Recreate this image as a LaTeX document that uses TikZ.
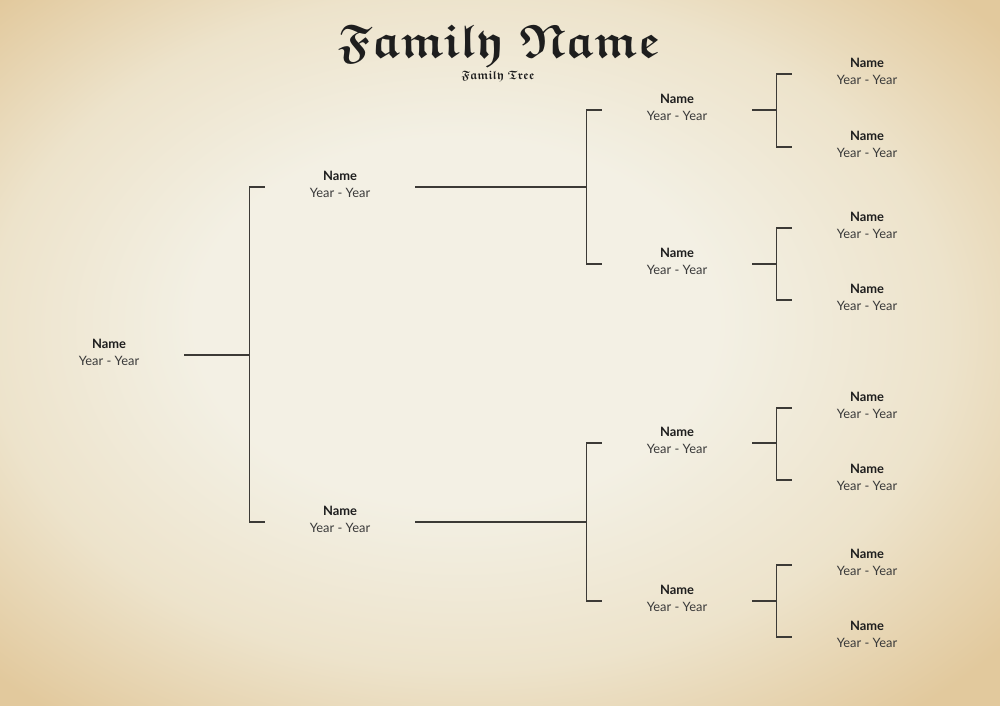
\documentclass[tikz,border=0pt]{standalone}
\usepackage{amssymb}
\usepackage{fontspec}
\setmainfont{Lato}
\usetikzlibrary{calc}
\definecolor{paperlight}{HTML}{F3F0E4}
\definecolor{papermid}{HTML}{EDE3CB}
\definecolor{paperedge}{HTML}{E2C99D}
\definecolor{ink}{HTML}{1E1E1E}
\definecolor{inkgray}{HTML}{3A3A3A}
\definecolor{linegray}{HTML}{3C3A36}
\pgfdeclareradialshading{parchment}{\pgfpoint{-3bp}{3bp}}{color(0bp)=(paperlight); color(13bp)=(paperlight); color(24bp)=(papermid); color(34bp)=(paperedge); color(50bp)=(paperedge)}
\newcommand{\goth}{\usefont{U}{euf}{b}{n}}
\tikzset{
  person/.style={align=center, minimum width=4.5cm, inner sep=0pt, text height=25.5pt, text depth=8pt, font=\fontsize{11}{14.5}\selectfont, text=inkgray},
  link/.style={draw=linegray, line width=1pt},
}
\newcommand{\who}{\textcolor{ink}{\textbf{Name}}\\Year - Year}

\begin{document}
\begin{tikzpicture}[x=0.03cm, y=-0.03cm]
  \shade[shading=parchment] (0,0) rectangle (1000,706);
  \node[anchor=base, text=ink] (title) at (499,58) {\resizebox{9.66cm}{!}{\goth Family Name}};
  \node[anchor=base, text=ink] (subtitle) at (498,80) {\resizebox{2.2cm}{!}{\goth Family Tree}};
  \node[person] (p0) at (109,355) {\who};
  \foreach \n/\y in {a/187,b/522} {\node[person] (p1\n) at (340,\y) {\who};}
  \foreach \n/\y in {a/110,b/264,c/443,d/601} {\node[person] (p2\n) at (677,\y) {\who};}
  \foreach \n/\y in {a/74,b/147,c/228,d/300,e/408,f/480,g/565,h/637} {\node[person] (p3\n) at (867,\y) {\who};}
  \foreach \p/\a/\b in {p0/p1a/p1b,p1a/p2a/p2b,p1b/p2c/p2d,p2a/p3a/p3b,p2b/p3c/p3d,p2c/p3e/p3f,p2d/p3g/p3h} {
    \draw[link] (\a.west) -- ++(-15,0) |- (\b.west);
    \draw[link] (\p.east) -- ($(\a.west |- \p.east)+(-15,0)$);
  }
\end{tikzpicture}
\end{document}
